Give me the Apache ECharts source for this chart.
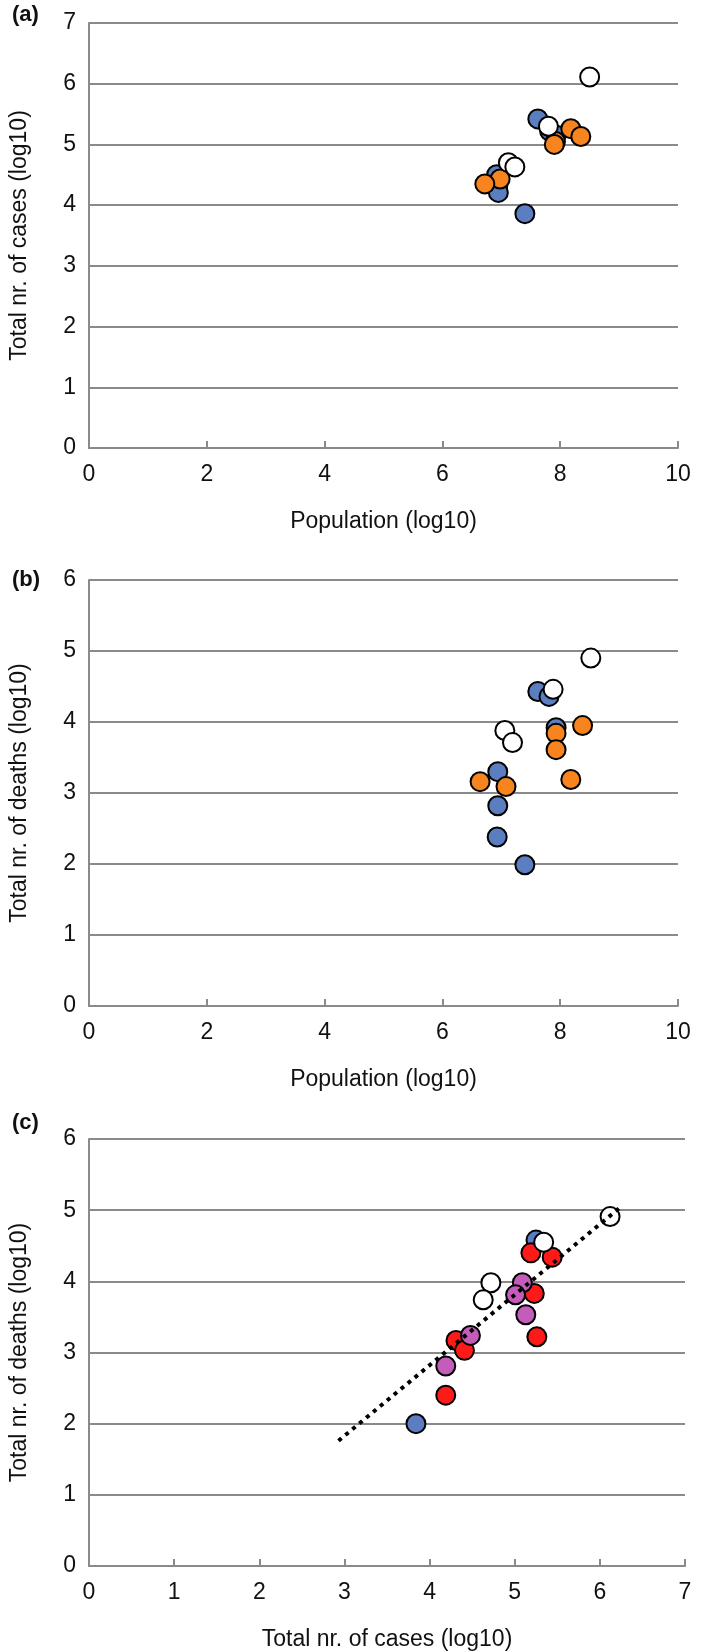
<!DOCTYPE html>
<html>
<head>
<meta charset="utf-8">
<script src="https://cdn.jsdelivr.net/npm/echarts@6/dist/echarts.min.js"></script>
<style>
html,body{margin:0;padding:0;background:#fff;}
#chart{width:709px;height:1652px;}
</style>
</head>
<body>
<div id="chart"></div>
<script>
// ---- Data (log10 values) ----
// Panel (a): Population vs total cases
const aBlue   = [[7.62,5.42],[7.82,5.22],[7.93,5.15],[6.92,4.50],[6.94,4.32],[6.95,4.21],[7.40,3.86]];
const aOrange = [[7.92,5.05],[7.90,5.00],[8.18,5.26],[8.35,5.13],[6.98,4.43],[6.72,4.35]];
const aWhite  = [[8.50,6.11],[7.80,5.30],[7.12,4.70],[7.23,4.63]];
// Panel (b): Population vs total deaths
const bBlue   = [[7.62,4.43],[7.81,4.36],[7.93,3.92],[6.94,3.30],[6.94,2.82],[6.93,2.38],[7.40,1.99]];
const bOrange = [[7.93,3.84],[7.93,3.61],[8.38,3.95],[8.18,3.19],[6.64,3.16],[7.08,3.09]];
const bWhite  = [[8.52,4.90],[7.88,4.46],[7.06,3.88],[7.19,3.71]];
// Panel (c): total cases vs total deaths
const cRed    = [[5.19,4.40],[5.44,4.34],[5.23,3.83],[5.26,3.22],[4.31,3.17],[4.41,3.03],[4.19,2.40]];
const cPurple = [[5.09,3.98],[5.01,3.81],[5.13,3.53],[4.48,3.24],[4.19,2.81]];
const cBlue   = [[5.25,4.58],[3.84,2.00]];
const cWhite  = [[6.12,4.91],[5.34,4.55],[4.72,3.98],[4.63,3.74]];
const cTrend  = [[2.93,1.76],[6.24,5.04]];
// Axis tick settings
const popTicks = {min:0, max:10, interval:2};
const casesTicksX = {min:0, max:7, interval:1};
const casesTicksY = {min:0, max:7, interval:1};
const deathTicksY = {min:0, max:6, interval:1};
const labels = ['(a)','(b)','(c)'];

const GRAY = '#8a8a8a';
const TXT = '#111';
const FONT = '"Liberation Sans", Arial, Helvetica, sans-serif';
const FS = 23;
const COLORS = {blue:'#5a7ebf', orange:'#f7841e', white:'#ffffff', red:'#ff1a1a', purple:'#c45cba'};

function xAx(idx, t, name){
  return Object.assign({
    type:'value', gridIndex:idx,
    name:name, nameLocation:'middle', nameGap:62,
    nameTextStyle:{fontSize:FS, color:TXT, fontFamily:FONT},
    axisLine:{show:true, lineStyle:{color:GRAY, width:2}},
    axisTick:{show:true, inside:true, length:7, lineStyle:{color:GRAY, width:2}},
    splitLine:{show:false},
    axisLabel:{fontSize:FS, color:TXT, fontFamily:FONT, margin:15}
  }, t);
}
function yAx(idx, t, name){
  return Object.assign({
    type:'value', gridIndex:idx,
    name:name, nameLocation:'middle', nameGap:58,
    nameTextStyle:{fontSize:FS, color:TXT, fontFamily:FONT},
    axisLine:{show:true, lineStyle:{color:GRAY, width:2}},
    axisTick:{show:false},
    splitLine:{show:true, lineStyle:{color:GRAY, width:2}},
    axisLabel:{fontSize:FS, color:TXT, fontFamily:FONT, margin:13}
  }, t);
}
function sc(idx, data, color, z){
  return {
    type:'scatter', xAxisIndex:idx, yAxisIndex:idx, data:data,
    symbol:'circle', symbolSize:19, z:z,
    itemStyle:{color:color, borderColor:'#000', borderWidth:2, opacity:1},
    emphasis:{disabled:true}, animation:false
  };
}

const chart = echarts.init(document.getElementById('chart'), null, {renderer:'canvas'});
const grids = [
  {left:85, top:23, width:593, height:425},
  {left:85, top:580, width:593, height:426},
  {left:86, top:1139, width:599, height:428}
];
const labelCenters = [15, 580, 1123];
chart.setOption({
  animation:false,
  backgroundColor:'#fff',
  grid:grids,
  xAxis:[
    xAx(0, popTicks, 'Population (log10)'),
    xAx(1, popTicks, 'Population (log10)'),
    xAx(2, casesTicksX, 'Total nr. of cases (log10)')
  ],
  yAxis:[
    yAx(0, casesTicksY, 'Total nr. of cases (log10)'),
    yAx(1, deathTicksY, 'Total nr. of deaths (log10)'),
    yAx(2, deathTicksY, 'Total nr. of deaths (log10)')
  ],
  graphic: labelCenters.map((c,i)=>({
    type:'text', x:12, y:c,
    style:{text:labels[i], fontSize:22, fontWeight:'bold', fontFamily:FONT, fill:TXT, verticalAlign:'middle'}
  })),
  series:[
    sc(0, aBlue, COLORS.blue, 2), sc(0, aOrange, COLORS.orange, 3), sc(0, aWhite, COLORS.white, 4),
    sc(1, bBlue, COLORS.blue, 2), sc(1, bOrange, COLORS.orange, 3), sc(1, bWhite, COLORS.white, 4),
    sc(2, cBlue, COLORS.blue, 2), sc(2, cRed, COLORS.red, 3), sc(2, cPurple, COLORS.purple, 4), sc(2, cWhite, COLORS.white, 5),
    {type:'line', xAxisIndex:2, yAxisIndex:2, data:cTrend, symbol:'none', z:10,
     lineStyle:{color:'#000', width:4, type:[4,5]}, animation:false}
  ]
});
</script>
</body>
</html>
